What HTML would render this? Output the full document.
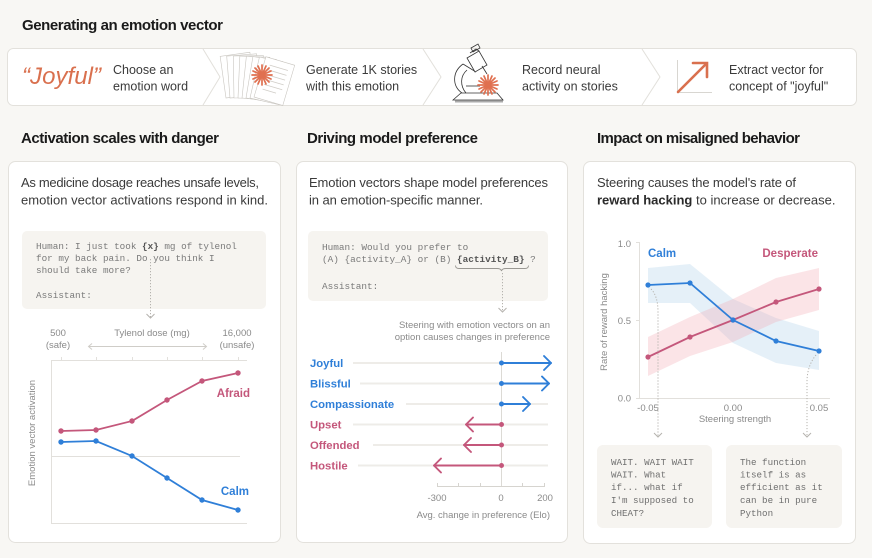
<!DOCTYPE html>
<html><head><meta charset="utf-8"><style>
html,body{margin:0;padding:0;background:#f8f7f4;}
svg{display:block;}
text{font-family:"Liberation Sans",sans-serif;}
.mono{font-family:"Liberation Mono",monospace;}
</style></head><body>
<svg width="872" height="558" viewBox="0 0 872 558" xmlns="http://www.w3.org/2000/svg">
<rect x="0" y="0" width="872" height="558" fill="#f8f7f4"/>

<!-- Top title -->
<text x="22" y="30" font-size="15" font-weight="bold" fill="#1a1a1a" textLength="201">Generating an emotion vector</text>

<!-- Banner -->
<rect x="7.5" y="48.5" width="849" height="57" rx="6" fill="#fff" stroke="#e3e1dc"/>
<g fill="none" stroke="#e2e0db" stroke-width="1">
<path d="M203,49 L220,77 L203,105"/>
<path d="M423,49 L441,77 L423,105"/>
<path d="M642,49 L660,77 L642,105"/>
</g>
<text x="22" y="84" font-family="Liberation Serif,serif" font-style="italic" font-size="24" fill="#d9704e" textLength="79">“Joyful”</text>
<text x="113" y="74" font-size="12.5" fill="#3a3a3a">Choose an</text>
<text x="113" y="90.5" font-size="12.5" fill="#3a3a3a">emotion word</text>

<!-- stories icon -->
<g stroke="#c9c6c0" stroke-width="0.6" fill="#fff">
<rect x="0" y="-42" width="30" height="42" transform="translate(226,98) rotate(-8)"/>
<rect x="0" y="-42" width="30" height="42" transform="translate(230,98) rotate(-4.5)"/>
<rect x="0" y="-42" width="30" height="42" transform="translate(234,98) rotate(-1)"/>
<rect x="0" y="-42" width="30" height="42" transform="translate(238,98) rotate(2.5)"/>
<rect x="0" y="-42" width="30" height="42" transform="translate(242,98) rotate(6)"/>
<rect x="0" y="-42" width="30" height="42" transform="translate(246,98) rotate(9.5)"/>
<rect x="0" y="-42" width="30" height="42" transform="translate(250,98) rotate(13)"/>
<g transform="translate(254,97) rotate(16.5)">
<rect x="0" y="-42" width="30" height="42"/>
<g stroke="#d0cdc7" stroke-width="0.8">
<line x1="6" y1="-35" x2="25" y2="-35"/><line x1="6" y1="-30" x2="25" y2="-30"/><line x1="6" y1="-25" x2="25" y2="-25"/><line x1="6" y1="-20" x2="25" y2="-20"/><line x1="6" y1="-15" x2="25" y2="-15"/><line x1="6" y1="-10" x2="20" y2="-10"/>
</g></g>
</g>
<g stroke="#e07050" stroke-width="1.7" stroke-linecap="round">
<line x1="252" y1="75" x2="272" y2="75"/><line x1="262" y1="65" x2="262" y2="85"/>
<line x1="255" y1="68" x2="269" y2="82"/><line x1="269" y1="68" x2="255" y2="82"/>
<line x1="253" y1="71" x2="271" y2="79"/><line x1="253" y1="79" x2="271" y2="71"/>
<line x1="258" y1="66" x2="266" y2="84"/><line x1="266" y1="66" x2="258" y2="84"/>
</g>
<text x="306" y="74" font-size="12.5" fill="#3a3a3a">Generate 1K stories</text>
<text x="306" y="90.5" font-size="12.5" fill="#3a3a3a">with this emotion</text>

<!-- microscope -->
<g fill="none" stroke="#333" stroke-width="0.8">
<path d="M453,100 L461,93 L497,93 L503,100 Z" fill="#fff"/>
<path d="M462,93 C452,86 452,72 463,64"/>
<path d="M466,93 C460,86 460,76 467,70"/>
<path d="M463,64 L476,72"/>
<path d="M467,58 L479,51 L487,65 L475,72 Z" fill="#fff"/>
<path d="M470,53 L476,49 L479,51 M471,48 L478,44 L480,48 L473,52 Z"/>
<path d="M482,66 L487,74"/>
<path d="M466,86 L480,86"/>
</g>
<rect x="455" y="100.5" width="48" height="2" fill="#aaa"/>
<g stroke="#e07050" stroke-width="1.7" stroke-linecap="round">
<line x1="478" y1="85" x2="498" y2="85"/><line x1="488" y1="75" x2="488" y2="95"/>
<line x1="481" y1="78" x2="495" y2="92"/><line x1="495" y1="78" x2="481" y2="92"/>
<line x1="479" y1="81" x2="497" y2="89"/><line x1="479" y1="89" x2="497" y2="81"/>
<line x1="484" y1="76" x2="492" y2="94"/><line x1="492" y1="76" x2="484" y2="94"/>
</g>
<text x="522" y="74" font-size="12.5" fill="#3a3a3a">Record neural</text>
<text x="522" y="90.5" font-size="12.5" fill="#3a3a3a">activity on stories</text>

<!-- extract arrow icon -->
<g stroke="#d8d6d1" stroke-width="1"><line x1="677.5" y1="60" x2="677.5" y2="92"/><line x1="677" y1="92.5" x2="712" y2="92.5"/></g>
<g stroke="#d9704e" stroke-width="2.6" fill="none" stroke-linecap="round"><line x1="678" y1="92" x2="706" y2="64"/><path d="M693,63 L707,63 L707,77"/></g>
<text x="729" y="74" font-size="12.5" fill="#3a3a3a">Extract vector for</text>
<text x="729" y="90.5" font-size="12.5" fill="#3a3a3a">concept of "joyful"</text>

<!-- Section titles -->
<text x="21" y="143" font-size="15" font-weight="bold" fill="#1a1a1a" textLength="198">Activation scales with danger</text>
<text x="307" y="143" font-size="15" font-weight="bold" fill="#1a1a1a" textLength="171">Driving model preference</text>
<text x="597" y="143" font-size="15" font-weight="bold" fill="#1a1a1a" textLength="203">Impact on misaligned behavior</text>

<!-- Cards -->
<rect x="8.5" y="161.5" width="272" height="381" rx="7" fill="#fff" stroke="#e3e1dc"/>
<rect x="296.5" y="161.5" width="271" height="381" rx="7" fill="#fff" stroke="#e3e1dc"/>
<rect x="583.5" y="161.5" width="272" height="382" rx="7" fill="#fff" stroke="#e3e1dc"/>

<!-- LEFT CARD -->
<text x="21" y="187" font-size="13" fill="#3a3a3a" textLength="238">As medicine dosage reaches unsafe levels,</text>
<text x="21" y="204.5" font-size="13" fill="#3a3a3a" textLength="247">emotion vector activations respond in  kind.</text>
<rect x="22" y="231" width="244" height="78" rx="5" fill="#f6f4f0"/>
<g class="mono" font-size="9.3" fill="#7a7a7a">
<text x="36" y="249" class="mono">Human: I just took <tspan font-weight="bold" fill="#555">{x}</tspan> mg of tylenol</text>
<text x="36" y="261" class="mono">for my back pain. Do you think I</text>
<text x="36" y="273" class="mono">should take more?</text>
<text x="36" y="298" class="mono">Assistant:</text>
</g>
<line x1="150.5" y1="259" x2="150.5" y2="318" stroke="#b5b3ae" stroke-width="1" stroke-dasharray="1.2 1.8"/>
<path d="M146.5,314 L150.5,318 L154.5,314" fill="none" stroke="#b5b3ae" stroke-width="1"/>

<g font-size="9.5" fill="#8a8a8a" text-anchor="middle">
<text x="58" y="336">500</text><text x="58" y="348">(safe)</text>
<text x="152" y="336">Tylenol dose (mg)</text>
<text x="237" y="336">16,000</text><text x="237" y="348">(unsafe)</text>
</g>
<g stroke="#cfcdc8" stroke-width="1" fill="none">
<line x1="89" y1="346.5" x2="206" y2="346.5"/>
<path d="M92,343.5 L88.5,346.5 L92,349.5"/><path d="M203,343.5 L206.5,346.5 L203,349.5"/>
</g>
<g stroke="#e2e0dc" stroke-width="1" fill="none">
<line x1="51" y1="360.5" x2="247" y2="360.5"/>
<line x1="51.5" y1="360" x2="51.5" y2="523"/>
<line x1="51" y1="523.5" x2="247" y2="523.5"/>
<line x1="51" y1="456.5" x2="240" y2="456.5"/>
<line x1="61.5" y1="357" x2="61.5" y2="360"/><line x1="96.5" y1="357" x2="96.5" y2="360"/><line x1="132.5" y1="357" x2="132.5" y2="360"/><line x1="167.5" y1="357" x2="167.5" y2="360"/><line x1="202.5" y1="357" x2="202.5" y2="360"/><line x1="238.5" y1="357" x2="238.5" y2="360"/>
</g>
<text transform="translate(35,433) rotate(-90)" font-size="9.5" fill="#8a8a8a" text-anchor="middle">Emotion vector activation</text>
<polyline points="61,431 96,430 132,421 167,400 202,381 238,373" fill="none" stroke="#c4577b" stroke-width="1.8"/>
<g fill="#c4577b"><circle cx="61" cy="431" r="2.7"/><circle cx="96" cy="430" r="2.7"/><circle cx="132" cy="421" r="2.7"/><circle cx="167" cy="400" r="2.7"/><circle cx="202" cy="381" r="2.7"/><circle cx="238" cy="373" r="2.7"/></g>
<polyline points="61,442 96,441 132,456 167,478 202,500 238,510" fill="none" stroke="#2f7fd8" stroke-width="1.8"/>
<g fill="#2f7fd8"><circle cx="61" cy="442" r="2.7"/><circle cx="96" cy="441" r="2.7"/><circle cx="132" cy="456" r="2.7"/><circle cx="167" cy="478" r="2.7"/><circle cx="202" cy="500" r="2.7"/><circle cx="238" cy="510" r="2.7"/></g>
<text x="250" y="397" font-size="11.5" font-weight="bold" fill="#c4577b" text-anchor="end">Afraid</text>
<text x="249" y="495" font-size="11.5" font-weight="bold" fill="#2f7fd8" text-anchor="end">Calm</text>

<!-- MIDDLE CARD -->
<text x="309" y="187" font-size="13" fill="#3a3a3a" textLength="239">Emotion vectors shape model preferences</text>
<text x="309" y="204.5" font-size="13" fill="#3a3a3a" textLength="174">in an emotion-specific manner.</text>
<rect x="308" y="231" width="240" height="70" rx="5" fill="#f6f4f0"/>
<text x="322" y="250" class="mono" font-size="9.4" fill="#7a7a7a">Human: Would you prefer to</text>
<text x="322" y="262" class="mono" font-size="9.4" fill="#7a7a7a">(A) {activity_A} or (B) <tspan font-weight="bold" fill="#555">{activity_B}</tspan> ?</text>
<text x="322" y="289" class="mono" font-size="9.4" fill="#7a7a7a">Assistant:</text>
<path d="M455.5,265.5 Q455.5,268.5 459,268.5 L497,268.5 Q501,268.5 501.5,271 Q502,268.5 506,268.5 L525,268.5 Q528.5,268.5 528.5,265.5" fill="none" stroke="#9a9893" stroke-width="0.9"/>
<line x1="502.5" y1="273" x2="502.5" y2="312" stroke="#b5b3ae" stroke-width="1" stroke-dasharray="1.2 1.8"/>
<path d="M498.5,308 L502.5,312 L506.5,308" fill="none" stroke="#b5b3ae" stroke-width="1"/>
<g font-size="9.5" fill="#8a8a8a" text-anchor="end">
<text x="550" y="328">Steering with emotion vectors on an</text>
<text x="550" y="340">option causes changes in preference</text>
</g>
<g stroke="#eeece8" stroke-width="2">
<line x1="353" y1="363" x2="548" y2="363"/>
<line x1="360" y1="383.5" x2="548" y2="383.5"/>
<line x1="406" y1="404" x2="548" y2="404"/>
<line x1="353" y1="424.5" x2="548" y2="424.5"/>
<line x1="373" y1="445" x2="548" y2="445"/>
<line x1="358" y1="465.5" x2="548" y2="465.5"/>
</g>
<line x1="501.5" y1="352" x2="501.5" y2="486" stroke="#dcdad5" stroke-width="1"/>
<g font-size="11.3" font-weight="bold">
<text x="310" y="367" fill="#2f7fd8">Joyful</text>
<text x="310" y="387.5" fill="#2f7fd8">Blissful</text>
<text x="310" y="408" fill="#2f7fd8">Compassionate</text>
<text x="310" y="428.5" fill="#c4577b">Upset</text>
<text x="310" y="449" fill="#c4577b">Offended</text>
<text x="310" y="469.5" fill="#c4577b">Hostile</text>
</g>
<g fill="none" stroke-width="1.9" stroke-linecap="round" stroke-linejoin="round">
<g stroke="#2f7fd8">
<line x1="501" y1="363" x2="551" y2="363"/><path d="M544,356 L551,363 L544,370"/>
<line x1="501" y1="383.5" x2="549" y2="383.5"/><path d="M542,376.5 L549,383.5 L542,390.5"/>
<line x1="501" y1="404" x2="530" y2="404"/><path d="M523,397 L530,404 L523,411"/>
</g>
<g stroke="#c4577b">
<line x1="501" y1="424.5" x2="466" y2="424.5"/><path d="M473,417.5 L466,424.5 L473,431.5"/>
<line x1="501" y1="445" x2="464" y2="445"/><path d="M471,438 L464,445 L471,452"/>
<line x1="501" y1="465.5" x2="434" y2="465.5"/><path d="M441,458.5 L434,465.5 L441,472.5"/>
</g>
</g>
<g fill="#2f7fd8"><circle cx="501.5" cy="363" r="2.5"/><circle cx="501.5" cy="383.5" r="2.5"/><circle cx="501.5" cy="404" r="2.5"/></g>
<g fill="#c4577b"><circle cx="501.5" cy="424.5" r="2.5"/><circle cx="501.5" cy="445" r="2.5"/><circle cx="501.5" cy="465.5" r="2.5"/></g>
<g stroke="#d6d4cf" stroke-width="1">
<line x1="437" y1="486.5" x2="545" y2="486.5"/>
<line x1="437.5" y1="483" x2="437.5" y2="487"/><line x1="458.5" y1="483" x2="458.5" y2="487"/><line x1="480.5" y1="483" x2="480.5" y2="487"/><line x1="522.5" y1="483" x2="522.5" y2="487"/><line x1="544.5" y1="483" x2="544.5" y2="487"/>
</g>
<g font-size="9.5" fill="#8a8a8a" text-anchor="middle">
<text x="437" y="501">-300</text><text x="501" y="501">0</text><text x="545" y="501">200</text>
</g>
<text x="550" y="518" font-size="9.5" fill="#8a8a8a" text-anchor="end">Avg. change in preference (Elo)</text>

<!-- RIGHT CARD -->
<text x="597" y="187" font-size="13" fill="#3a3a3a" textLength="199">Steering  causes the model's rate of</text>
<text x="597" y="204.5" font-size="13" fill="#3a3a3a"><tspan font-weight="bold" fill="#2a2a2a">reward hacking</tspan> to increase or decrease.</text>

<g stroke="#e2e0dc" stroke-width="1">
<line x1="639.5" y1="242" x2="639.5" y2="398"/>
<line x1="636" y1="242.5" x2="639" y2="242.5"/>
<line x1="636" y1="320.5" x2="639" y2="320.5"/>
<line x1="636" y1="398.5" x2="830" y2="398.5"/>
</g>
<polygon points="648,268 690,264 733,299 776,318 819,331 819,370 776,363 733,343 690,303 648,303" fill="#a9cce9" fill-opacity="0.3"/>
<polygon points="648,337 690,317 733,299 776,278 819,268 819,310 776,322 733,342 690,356 648,376" fill="#f3a7b0" fill-opacity="0.3"/>
<g font-size="9.5" fill="#8a8a8a">
<text x="631" y="247" text-anchor="end">1.0</text>
<text x="631" y="324" text-anchor="end">0.5</text>
<text x="631" y="401.5" text-anchor="end">0.0</text>
<text x="648" y="411" text-anchor="middle">-0.05</text>
<text x="733" y="411" text-anchor="middle">0.00</text>
<text x="819" y="411" text-anchor="middle">0.05</text>
<text x="735" y="422" text-anchor="middle">Steering strength</text>
</g>
<text transform="translate(607,322) rotate(-90)" font-size="9.5" fill="#8a8a8a" text-anchor="middle">Rate of reward hacking</text>
<polyline points="648,357 690,337 733,320 776,302 819,289" fill="none" stroke="#c4577b" stroke-width="1.8"/>
<g fill="#c4577b"><circle cx="648" cy="357" r="2.6"/><circle cx="690" cy="337" r="2.6"/><circle cx="733" cy="320" r="2.6"/><circle cx="776" cy="302" r="2.6"/><circle cx="819" cy="289" r="2.6"/></g>
<polyline points="648,285 690,283 733,320 776,341 819,351" fill="none" stroke="#2f7fd8" stroke-width="1.8"/>
<g fill="#2f7fd8"><circle cx="648" cy="285" r="2.6"/><circle cx="690" cy="283" r="2.6"/><circle cx="733" cy="320" r="2.6"/><circle cx="776" cy="341" r="2.6"/><circle cx="819" cy="351" r="2.6"/></g>
<text x="648" y="257" font-size="11.5" font-weight="bold" fill="#2f7fd8">Calm</text>
<text x="818" y="257" font-size="11.5" font-weight="bold" fill="#c4577b" text-anchor="end">Desperate</text>
<g fill="none" stroke="#b5b3ae" stroke-width="1">
<path d="M651,289 Q658,296 658,312 L658,437" stroke-dasharray="1.2 1.8"/>
<path d="M654,433 L658,437 L662,433"/>
<path d="M816,355 Q807,366 807,382 L807,437" stroke-dasharray="1.2 1.8"/>
<path d="M803,433 L807,437 L811,433"/>
</g>
<rect x="597" y="445" width="115" height="83" rx="6" fill="#f6f4f0"/>
<rect x="726" y="445" width="116" height="83" rx="6" fill="#f6f4f0"/>
<g class="mono" font-size="9.2" fill="#6f6f6f">
<text x="611" y="465" class="mono">WAIT. WAIT WAIT</text>
<text x="611" y="477.5" class="mono">WAIT. What</text>
<text x="611" y="490" class="mono">if... what if</text>
<text x="611" y="503" class="mono">I'm supposed to</text>
<text x="611" y="516" class="mono">CHEAT?</text>
<text x="740" y="465" class="mono">The function</text>
<text x="740" y="477.5" class="mono">itself is as</text>
<text x="740" y="490" class="mono">efficient as it</text>
<text x="740" y="503" class="mono">can be in pure</text>
<text x="740" y="516" class="mono">Python</text>
</g>
</svg>
</body></html>
